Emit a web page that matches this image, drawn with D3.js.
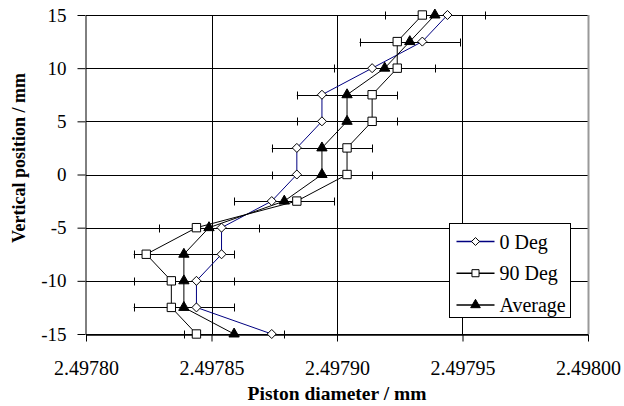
<!DOCTYPE html>
<html>
<head>
<meta charset="utf-8">
<script src="https://cdn.jsdelivr.net/npm/d3@7/dist/d3.min.js"></script>
<style>
  body { margin: 0; background: #fff; }
</style>
</head>
<body>
<svg width="624" height="406"></svg>
<script>
var positions = [15, 12.5, 10, 7.5, 5, 2.5, 0, -2.5, -5, -7.5, -10, -12.5, -15];
var deg0 = [2.497944, 2.497934, 2.497914, 2.497894, 2.497894, 2.497884, 2.497884,
            2.497874, 2.497854, 2.497854, 2.497844, 2.497844, 2.497874];
var deg90 = [2.497934, 2.497924, 2.497924, 2.497914, 2.497914, 2.497904, 2.497904,
             2.497884, 2.497844, 2.497824, 2.497834, 2.497834, 2.497844];
var average = [2.497939, 2.497929, 2.497919, 2.497904, 2.497904, 2.497894, 2.497894,
               2.497879, 2.497849, 2.497839, 2.497839, 2.497839, 2.497859];
var errHalf = 0.00002;
var xTicks = [2.4978, 2.49785, 2.4979, 2.49795, 2.498];
var yTicks = [-15, -10, -5, 0, 5, 10, 15];
var seriesNames = ["0 Deg", "90 Deg", "Average"];

var svg = d3.select("svg");
var serif = "Liberation Serif";

var plotLeft = 86, plotRight = 588, plotTop = 15, plotBottom = 334;

var x = d3.scaleLinear().domain([2.4978, 2.498]).range([plotLeft, plotRight]);
var y = d3.scaleLinear().domain([-15, 15]).range([plotBottom, plotTop]);

// grid
svg.append("g").selectAll("line")
  .data(yTicks)
  .enter().append("line")
  .attr("x1", plotLeft).attr("x2", plotRight)
  .attr("y1", function(d) { return Math.round(y(d)) + 0.5; })
  .attr("y2", function(d) { return Math.round(y(d)) + 0.5; })
  .attr("stroke", "#000").attr("stroke-width", 1);

svg.append("g").selectAll("line")
  .data(xTicks.slice(1, 4))
  .enter().append("line")
  .attr("y1", plotTop).attr("y2", plotBottom)
  .attr("x1", function(d) { return Math.round(x(d)) + 0.5; })
  .attr("x2", function(d) { return Math.round(x(d)) + 0.5; })
  .attr("stroke", "#000").attr("stroke-width", 1);

// right border (grey)
svg.append("line")
  .attr("x1", plotRight + 0.5).attr("x2", plotRight + 0.5)
  .attr("y1", plotTop).attr("y2", plotBottom)
  .attr("stroke", "#999").attr("stroke-width", 2);

// axes
var xAxis = svg.append("g")
  .attr("transform", "translate(0," + (plotBottom + 0.5) + ")")
  .call(d3.axisBottom(x).tickValues(xTicks).tickFormat(d3.format(".5f")).tickSize(7).tickSizeOuter(0));
xAxis.attr("font-family", serif).attr("font-size", 20);
xAxis.selectAll("text").attr("y", 40).attr("dy", 0);
xAxis.select(".domain").attr("stroke-width", 1.5);

var yAxis = svg.append("g")
  .attr("transform", "translate(" + (plotLeft - 0.5) + ",0)")
  .call(d3.axisLeft(y).tickValues(yTicks).tickFormat(function(d) { return String(d); })
    .tickSize(8).tickSizeOuter(0).tickPadding(11));
yAxis.attr("font-family", serif).attr("font-size", 19);
svg.selectAll(".domain").attr("stroke", "#000");
svg.selectAll(".tick line").attr("stroke", "#000");
svg.selectAll(".tick text").attr("fill", "#000");

// error bars on the average series
var eb = svg.append("g").selectAll("g")
  .data(average)
  .enter().append("g");
eb.append("line")
  .attr("x1", function(d) { return x(d - errHalf); })
  .attr("x2", function(d) { return x(d + errHalf); })
  .attr("y1", function(d, i) { return Math.round(y(positions[i])) + 0.5; })
  .attr("y2", function(d, i) { return Math.round(y(positions[i])) + 0.5; })
  .attr("stroke", "#000");
eb.selectAll(".cap")
  .data(function(d, i) { return [[d - errHalf, positions[i]], [d + errHalf, positions[i]]]; })
  .enter().append("line")
  .attr("x1", function(d) { return Math.round(x(d[0])) + 0.5; })
  .attr("x2", function(d) { return Math.round(x(d[0])) + 0.5; })
  .attr("y1", function(d) { return Math.round(y(d[1])) - 3.5; })
  .attr("y2", function(d) { return Math.round(y(d[1])) + 4.5; })
  .attr("stroke", "#000");

var line = d3.line()
  .x(function(d) { return x(d[0]); })
  .y(function(d) { return y(d[1]); });

var zipSeries = function(vals) {
  return vals.map(function(v, i) { return [v, positions[i]]; });
}

var series = [
  { name: seriesNames[0], values: zipSeries(deg0), color: "#000080", symbol: d3.symbolDiamond2, size: 52, legendSize: 40, fill: "#fff" },
  { name: seriesNames[1], values: zipSeries(deg90), color: "#000", symbol: d3.symbolSquare, size: 70, legendSize: 50, fill: "#fff" },
  { name: seriesNames[2], values: zipSeries(average), color: "#000", symbol: d3.symbolTriangle, size: 46, legendSize: 40, fill: "#000" }
];

series.forEach(function(s) {
  svg.append("path")
    .datum(s.values)
    .attr("d", line)
    .attr("fill", "none")
    .attr("stroke", s.color)
    .attr("stroke-width", 1);
});

series.forEach(function(s) {
  svg.append("g").selectAll("path")
    .data(s.values)
    .enter().append("path")
    .attr("transform", function(d) { return "translate(" + x(d[0]) + "," + y(d[1]) + ")"; })
    .attr("d", d3.symbol().type(s.symbol).size(s.size))
    .attr("fill", s.fill)
    .attr("stroke", "#000")
    .attr("stroke-width", 1);
});

// legend
var legend = svg.append("g").attr("transform", "translate(449.5,223.5)");
legend.append("rect")
  .attr("width", 121).attr("height", 94)
  .attr("fill", "#fff").attr("stroke", "#000");
var item = legend.selectAll(".item")
  .data(series)
  .enter().append("g")
  .attr("transform", function(d, i) { return "translate(0," + (18 + i * 31.7) + ")"; });
item.append("line")
  .attr("x1", 7).attr("x2", 45)
  .attr("stroke", function(d) { return d.color; })
  .attr("stroke-width", 1.5);
item.append("path")
  .attr("transform", "translate(26,0)")
  .attr("d", function(d) { return d3.symbol().type(d.symbol).size(d.legendSize)(); })
  .attr("fill", function(d) { return d.fill; })
  .attr("stroke", "#000");
item.append("text")
  .attr("x", 50).attr("y", 7)
  .attr("font-family", serif)
  .attr("font-size", 20)
  .text(function(d) { return d.name; });

// axis titles
svg.append("text")
  .attr("x", 337).attr("y", 400)
  .attr("text-anchor", "middle")
  .attr("font-family", serif)
  .attr("font-size", 19.5).attr("font-weight", "bold")
  .text("Piston diameter / mm");

svg.append("text")
  .attr("transform", "translate(25,158) rotate(-90)")
  .attr("text-anchor", "middle")
  .attr("font-family", serif)
  .attr("font-size", 18).attr("font-weight", "bold")
  .text("Vertical position / mm");
</script>
</body>
</html>
